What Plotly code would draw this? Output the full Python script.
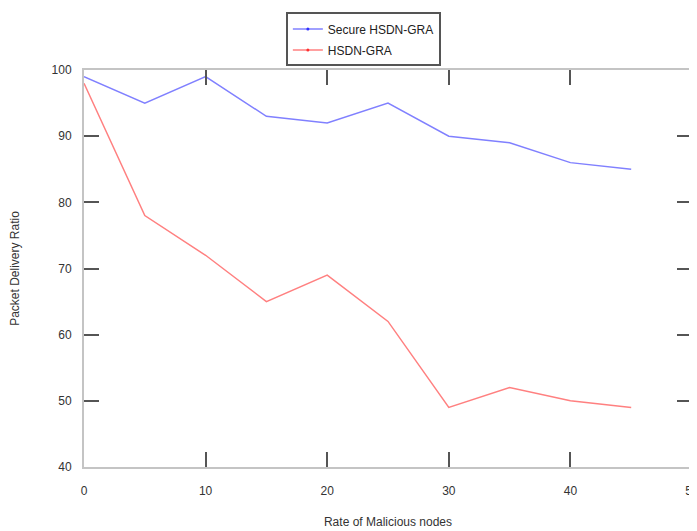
import plotly.graph_objects as go

rate = [0, 5, 10, 15, 20, 25, 30, 35, 40, 45]
secure_hsdn_gra = [99, 95, 99, 93, 92, 95, 90, 89, 86, 85]
hsdn_gra = [98, 78, 72, 65, 69, 62, 49, 52, 50, 49]
x_ticks = [0, 10, 20, 30, 40, 50]
y_ticks = [40, 50, 60, 70, 80, 90, 100]

series = [
    ("Secure HSDN-GRA", secure_hsdn_gra, "#8080ff", "#3030ff"),
    ("HSDN-GRA", hsdn_gra, "#ff8080", "#ff3030"),
]

fig = go.Figure()
for name, vals, col, mcol in series:
    fig.add_trace(go.Scatter(x=rate, y=vals, name=name, mode="lines",
                             line=dict(color=col, width=1.5), showlegend=False))
for name, vals, col, mcol in series:
    fig.add_trace(go.Scatter(x=[None], y=[None], name=name, mode="lines+markers",
                             legendgroup=name,
                             line=dict(color=col, width=1.5),
                             marker=dict(size=3, color=mcol)))

axis_common = dict(showgrid=False, zeroline=False, showline=True, linecolor="#c4c4c4",
                   linewidth=2, mirror="ticks", ticks="inside", ticklen=15, tickwidth=2,
                   tickcolor="#555555", automargin=False, ticklabeloverflow="allow",
                   tickfont=dict(family="Liberation Sans, Arial", size=12, color="#333333"))

fig.update_layout(
    width=689, height=523,
    margin=dict(l=76, r=5, t=59, b=64),
    plot_bgcolor="white", paper_bgcolor="white",
    font=dict(family="Liberation Sans, Arial", size=12, color="#333333"),
    xaxis=dict(range=[0, 50], tickvals=x_ticks, ticklabelstandoff=12,
               title=dict(text="Rate of Malicious nodes", standoff=20,
                          font=dict(size=12, color="#333333")), **axis_common),
    yaxis=dict(range=[40, 100], tickvals=y_ticks, ticklabelstandoff=8,
               title=dict(text="Packet Delivery Ratio", standoff=32,
                          font=dict(size=12, color="#333333")), **axis_common),
    legend=dict(x=0.332, y=1.145, xanchor="left", yanchor="top",
                bordercolor="#555555", borderwidth=2, bgcolor="white",
                font=dict(size=12, color="#222222"),
                traceorder="grouped", tracegroupgap=2),
    showlegend=True,
)

fig.write_html("out.html")
